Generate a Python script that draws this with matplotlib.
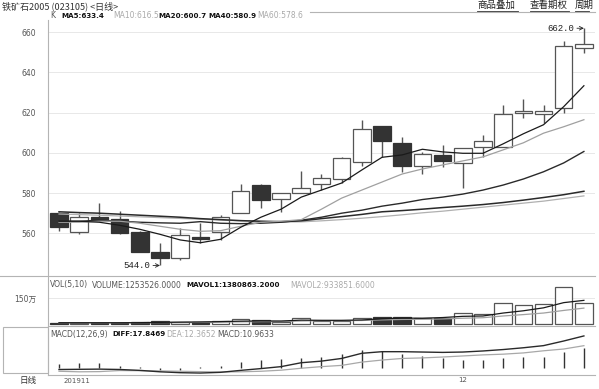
"""Iron ore daily K-line chart with MA, volume and MACD panels."""
import matplotlib
matplotlib.use("Agg")
import matplotlib.pyplot as plt
from matplotlib.lines import Line2D
from matplotlib.patches import Rectangle

plt.rcParams["font.family"] = ["DejaVu Sans", "Noto Sans CJK SC"]

W, H = 599, 389

# candle data (daily)
opens = [570, 560.8, 568.3, 567, 560.5, 550.8, 547.6, 558.2, 560.8, 570, 584, 576.9, 579.9, 584.4,
         587, 595.6, 613.4, 605.1, 593.5, 598.8, 594.8, 603.1, 603.1, 620, 619.4, 622.2, 652]
highs = [570.5, 570, 575, 571, 561, 555.3, 562.5, 565, 569, 584.5, 584.5, 580.2, 591, 589.5,
         597.8, 616.4, 613.6, 607.8, 600.6, 603.9, 602.6, 608.9, 623.8, 626.7, 623.8, 655.8, 662]
lows = [561, 559.5, 566, 559.8, 550.5, 544, 546.5, 555, 556.5, 570, 572.4, 570.7, 579.9, 581.5,
        584.9, 593.5, 598.1, 590.6, 589.5, 593.1, 582.7, 598.1, 603, 617.5, 614.7, 620, 649.6]
closes = [563.3, 568, 566.6, 560, 550.8, 547.9, 559.2, 557.4, 568.3, 581, 576.6, 579.9, 582.4, 587.4,
          597.3, 611.9, 606.1, 593.6, 599.5, 596, 602.6, 606.1, 619.4, 621, 620.8, 653.2, 654]

ma5 = [566, 566, 565.5, 564, 562, 559.5, 556.7, 555.3, 557, 563, 568, 572, 578, 581.5, 585,
       591.5, 597.8, 599, 601.8, 600.5, 599.8, 599.8, 604.5, 609.5, 614, 623, 633.4]
ma10 = [565.5, 565.5, 566, 566, 565, 563.5, 562, 561, 561.3, 563.5, 565.5, 566, 566.8, 572, 577.5,
        581.5, 585.5, 589.5, 592, 594, 596, 598, 601.5, 605, 609.8, 613, 616.5]
ma20 = [566, 566, 566.5, 566, 565.5, 565.2, 565, 565.8, 565, 564.8, 565, 565.5, 566.5, 568, 570,
        571.5, 573.5, 575, 576.8, 578, 579.5, 581.5, 584, 587, 590.6, 595, 600.7]
ma40 = [570.7, 570.3, 570, 569.5, 569, 568.5, 568, 567.3, 566.8, 566.3, 566, 565.8, 566.2, 567.3,
        568.3, 569.4, 570.7, 571.3, 572, 572.8, 573.5, 574.3, 575.3, 576.5, 577.8, 579.2, 580.9]
ma60 = [569.6, 569.3, 569, 568.6, 568.2, 567.8, 567.4, 567, 566.6, 566.2, 565.9, 565.6, 565.7, 566.2,
        566.8, 567.5, 568.3, 569.2, 570.2, 571, 572, 573, 574, 575, 576, 577.3, 578.6]

# volume in units of 10k (万)
vol = [10, 6, 8, 8, 15, 17, 15, 12, 19, 29, 25, 15, 35, 19, 19, 35, 44, 44, 35, 38, 67, 58,
       125, 110, 115, 215, 125.35]
mavol1 = [9, 9, 9, 9, 9.5, 11, 12.5, 13.5, 15.5, 18, 19.5, 19, 24, 23, 23, 25, 32, 36, 35, 39,
          46, 48, 65, 78, 95, 125, 138.1]
mavol2 = [9, 9, 9, 9, 9.5, 10, 10.5, 11, 12.5, 14, 15.5, 16, 19, 21, 21, 22, 25.5, 28, 29, 31,
          35, 38, 48, 56, 65, 80, 93.4]

diff = [-1.0, -0.9, -0.8, -1.0, -1.5, -2.3, -2.8, -3.0, -2.6, -1.5, -0.5, 0.6, 2.8, 3.7, 5.2,
        8.1, 9.0, 9.0, 8.8, 8.6, 8.8, 9.4, 10.2, 11.2, 12.4, 15.0, 17.85]
dea = [-2.0, -2.3, -2.2, -1.6, -1.7, -1.8, -2.0, -2.2, -2.4, -2.3, -2.0, -1.4, -0.3, 0.6, 1.3,
       3.15, 4.3, 5.2, 5.5, 6.0, 6.6, 7.2, 7.6, 8.3, 9.5, 10.5, 12.37]
macd = [2.0, 2.8, 2.8, 0.8, 0.3, -1.3, -1.2, 0.3, 1.0, 3.4, 4.3, 4.9, 5.6, 6.2, 7.7, 9.9, 9.4,
        7.7, 6.6, 5.2, 4.3, 4.3, 5.2, 5.8, 5.8, 9.0, 10.96]

price_ticks = [560, 580, 600, 620, 640, 660]

DOWN = "#333333"
EDGE = "#555555"
GRID = "#e8e8e8"
FRAME = "#b4b4b4"
TXT = "#555555"
FS = 5.5


def fx(x):
    return x / W


def fy(y):
    return 1 - y / H


def axes_box(top, bottom):
    return [fx(48), fy(bottom), fx(595) - fx(48), fy(top) - fy(bottom)]


def fig_line(fig, x0, y0, x1, y1, color=FRAME, lw=0.8):
    fig.add_artist(Line2D([fx(x0), fx(x1)], [fy(y0), fy(y1)], color=color, lw=lw))


def fig_text(fig, x, y, s, **kw):
    kw.setdefault("fontsize", FS)
    kw.setdefault("va", "center")
    fig.text(fx(x), fy(y), s, **kw)


fig = plt.figure(figsize=(W / 100, H / 100), dpi=100)
ax = fig.add_axes(axes_box(20, 276))
axv = fig.add_axes(axes_box(276, 326))
axm = fig.add_axes(axes_box(326, 375))

n = len(closes)
xs = list(range(n))
xlim = (-0.545, 26.55)
bw = 0.87

for a in (ax, axv, axm):
    a.set_xlim(*xlim)
    for s in a.spines.values():
        s.set_visible(False)
    a.set_xticks([])
    a.tick_params(axis="y", length=0, pad=8.5, labelsize=FS, labelcolor=TXT)

# --- price panel
ax.set_ylim(538.76, 666.1)
ax.set_yticks(price_ticks)
ax.set_yticklabels([str(t) for t in price_ticks])
for t in price_ticks:
    ax.axhline(t, color=GRID, lw=0.7, zorder=0)

for i in xs:
    o, h, l, c = opens[i], highs[i], lows[i], closes[i]
    up = c >= o
    ax.vlines(i, l, h, color=EDGE, lw=1, zorder=2)
    lo, hi = min(o, c), max(o, c)
    ax.add_patch(Rectangle((i - bw / 2, lo), bw, max(hi - lo, 0.4),
                           facecolor="white" if up else DOWN,
                           edgecolor=EDGE if up else DOWN, lw=0.9, zorder=3))

ax.plot(xs, ma60, color="#b0b0b0", lw=0.9, zorder=4)
ax.plot(xs, ma40, color="#2a2a2a", lw=1.1, zorder=4)
ax.plot(xs, ma20, color="#2a2a2a", lw=1.0, zorder=4)
ax.plot(xs, ma10, color="#a0a0a0", lw=0.9, zorder=4)
ax.plot(xs, ma5, color="#1a1a1a", lw=0.9, zorder=4)

lo_i = lows.index(min(lows))
hi_i = highs.index(max(highs))
mono = ["Liberation Mono", "DejaVu Sans Mono"]
for xi, yv in [(lo_i, lows[lo_i]), (hi_i, highs[hi_i])]:
    ax.annotate(f"{yv:.1f}", xy=(xi, yv), xytext=(-7, 0),
                textcoords="offset points", ha="right", va="center", fontsize=6.5,
                family=mono, color="#222222",
                arrowprops=dict(arrowstyle="->", color="#222222", lw=0.6,
                                shrinkA=0, shrinkB=0))

# --- volume panel
axv.set_ylim(-9.8, 278.7)
axv.set_yticks([150])
axv.set_yticklabels(["150万"], family=["DejaVu Sans", "Noto Sans CJK SC"])
axv.axhline(150, color=GRID, lw=0.7, zorder=0)
for i in xs:
    up = closes[i] >= opens[i]
    axv.add_patch(Rectangle((i - bw / 2, 0), bw, vol[i],
                            facecolor="white" if up else DOWN,
                            edgecolor=EDGE if up else DOWN, lw=0.9, zorder=2))
axv.plot(xs, mavol2, color="#a0a0a0", lw=0.9, zorder=3)
axv.plot(xs, mavol1, color="#1a1a1a", lw=0.9, zorder=3)

# --- MACD panel
axm.set_ylim(-4.1, 23.43)
axm.set_yticks([0])
axm.set_yticklabels(["0"])
axm.vlines(xs, 0, macd, color="#333333", lw=1.0, zorder=2)
axm.plot(xs, dea, color="#a8a8a8", lw=0.9, zorder=3)
axm.plot(xs, diff, color="#2a2a2a", lw=1.0, zorder=3)

# --- frames / separators
fig_line(fig, 48, 20, 48, 375)
fig_line(fig, 310, 12, 595, 12)
fig_line(fig, 0, 276, 595, 276)
fig_line(fig, 48, 326, 595, 326)
fig_line(fig, 48, 375, 595, 375)
fig.add_artist(Rectangle((fx(3), fy(373)), fx(45), fy(327) - fy(373),
                         facecolor="white", edgecolor=FRAME, lw=0.8))

# --- header
cjk = ["Noto Sans CJK SC", "DejaVu Sans"]
fig_text(fig, 2, 6, "铁矿石2005 (023105) <日线>", family=cjk, fontsize=6.5, color="#333333")
for x0, x1, s in [(477, 517, "商品叠加"), (530, 568, "查看期权"), (575, 588, "周期")]:
    fig_text(fig, x0, 5.5, s, family=cjk, fontsize=6.8, color="#222222")
    fig_line(fig, x0, 10.5, x1 + 1, 10.5, color="#333333", lw=0.6)

legend_rows = [
    (15.5, [(50, "K", TXT, "normal"), (61, "MA5:633.4", "#111111", "bold"),
            (113, "MA10:616.5", "#aaaaaa", "normal"),
            (158, "MA20:600.7", "#111111", "bold"),
            (208, "MA40:580.9", "#111111", "bold"),
            (257, "MA60:578.6", "#aaaaaa", "normal")]),
    (285, [(50, "VOL(5,10)", TXT, "normal"), (92, "VOLUME:1253526.0000", TXT, "normal"),
           (186, "MAVOL1:1380863.2000", "#111111", "bold"),
           (290, "MAVOL2:933851.6000", "#aaaaaa", "normal")]),
    (334.5, [(50, "MACD(12,26,9)", TXT, "normal"), (112, "DIFF:17.8469", "#111111", "bold"),
             (166, "DEA:12.3652", "#aaaaaa", "normal"),
             (217, "MACD:10.9633", TXT, "normal")]),
]
for y, parts in legend_rows:
    for x, s, col, wt in parts:
        fig_text(fig, x, y, s, color=col, fontweight=wt,
                 fontsize=5.1 if wt == "bold" else FS)

# --- date labels
fig_text(fig, 37, 381, "日线", family=cjk, fontsize=6.2, color="#333333", ha="right")
fig_text(fig, 64, 381, "201911", color=TXT, fontsize=5)
fig_text(fig, 463, 380.5, "12", color=TXT, fontsize=5, ha="center")

fig.savefig("out.png", dpi=100)
